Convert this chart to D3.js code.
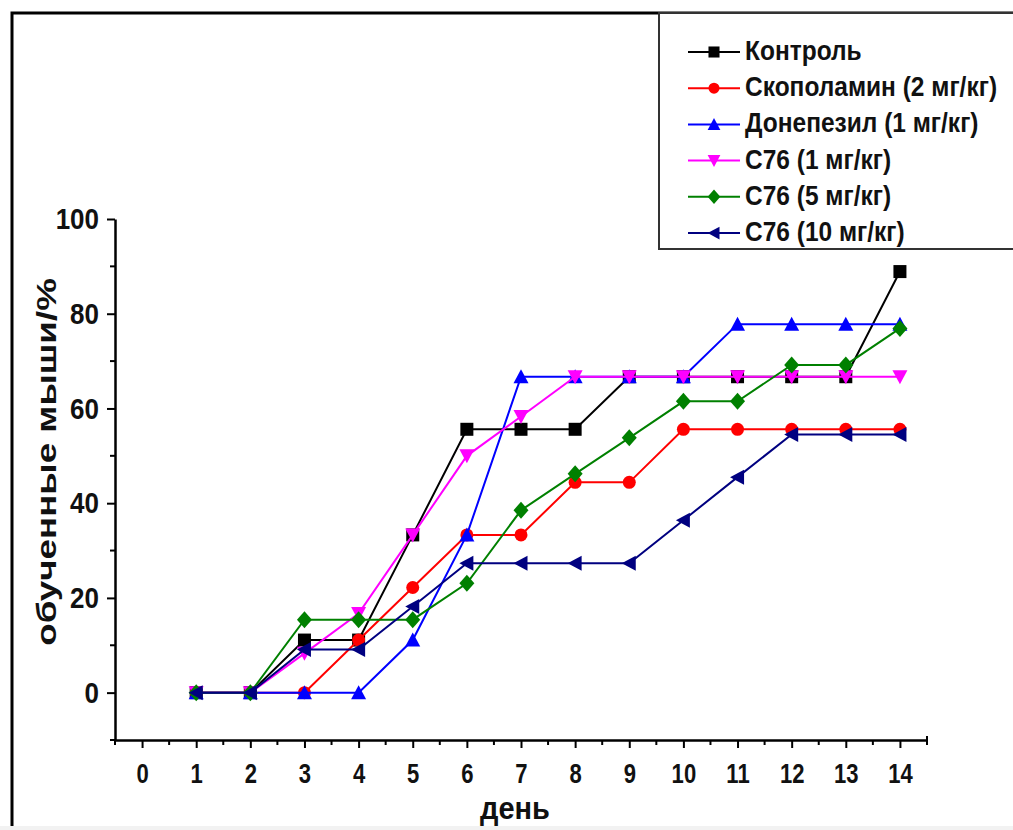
<!DOCTYPE html>
<html>
<head>
  <meta charset="utf-8">
  <title></title>
  <style>
    body { margin: 0; background: #fff; }
    text { font-family: "Liberation Sans", Arial, sans-serif; font-weight: bold; }
  </style>
  <script src="https://d3js.org/d3.v7.min.js"></script>
</head>
<body>
  <svg id="chart" width="1013" height="830"></svg>
  <script>
    // days and series (% of trained mice)
    const days = [1, 2, 3, 4, 5, 6, 7, 8, 9, 10, 11, 12, 13, 14]
    const control   = [0, 0, 11.1, 11.1, 33.3, 55.6, 55.6, 55.6, 66.7, 66.7, 66.7, 66.7, 66.7, 88.9]
    const scopol    = [0, 0, 0, 11.1, 22.2, 33.3, 33.3, 44.4, 44.4, 55.6, 55.6, 55.6, 55.6, 55.6]
    const donepezil = [0, 0, 0, 0, 11.1, 33.3, 66.7, 66.7, 66.7, 66.7, 77.8, 77.8, 77.8, 77.8]
    const c76_1     = [0, 0, 8.3, 16.7, 33.3, 50, 58.3, 66.7, 66.7, 66.7, 66.7, 66.7, 66.7, 66.7]
    const c76_5     = [0, 0, 15.4, 15.4, 15.4, 23.1, 38.5, 46.2, 53.8, 61.5, 61.5, 69.2, 69.2, 76.9]
    const c76_10    = [0, 0, 9.1, 9.1, 18.2, 27.3, 27.3, 27.3, 27.3, 36.4, 45.5, 54.5, 54.5, 54.5]

    const names = ["Контроль", "Скополамин (2 мг/кг)", "Донепезил (1 мг/кг)", "C76 (1 мг/кг)", "C76 (5 мг/кг)", "C76 (10 мг/кг)"]
    const colors = ["#000000", "#ff0000", "#0000ff", "#ff00ff", "#008000", "#000080"]
    const shapes = ["square", "circle", "up", "down", "diamond", "left"]
    const values = [control, scopol, donepezil, c76_1, c76_5, c76_10]

    const xTicks = d3.range(0, 15)
    const yTicks = [0, 20, 40, 60, 80, 100]

    const svg = d3.select("#chart")

    // outer frame
    svg.append("rect").attr("x", 12).attr("y", 13).attr("width", 1010).attr("height", 830)
      .attr("fill", "none").attr("stroke", "#000").attr("stroke-width", 3)
    svg.append("rect").attr("x", 0).attr("y", 826).attr("width", 1013).attr("height", 4).attr("fill", "#f2f2f2")

    const x = d3.scaleLinear().domain([-0.5, 14.5]).range([115, 927])
    const y = d3.scaleLinear().domain([-10, 100]).range([740, 219])

    // axes
    const xAxis = svg.append("g").attr("transform", "translate(0,740)")
      .call(d3.axisBottom(x).tickValues(xTicks).tickSize(8).tickSizeOuter(0))
    xAxis.append("g").selectAll("line").data(d3.range(-0.5, 14.6, 1)).join("line")
      .attr("x1", d => x(d)).attr("x2", d => x(d)).attr("y1", 0).attr("y2", 5)
      .attr("stroke", "#000").attr("stroke-width", 2)
    xAxis.append("line").attr("x1", x(14.5)).attr("x2", x(14.5)).attr("y1", 0).attr("y2", -4)
      .attr("stroke", "#000").attr("stroke-width", 2)

    const yAxis = svg.append("g").attr("transform", "translate(115,0)")
      .call(d3.axisLeft(y).tickValues(yTicks).tickSize(8).tickPadding(8).tickSizeOuter(0))
    yAxis.append("g").selectAll("line").data([-10, 10, 30, 50, 70, 90]).join("line")
      .attr("x1", 0).attr("x2", -5).attr("y1", d => y(d)).attr("y2", d => y(d))
      .attr("stroke", "#000").attr("stroke-width", 2)

    svg.selectAll(".domain").attr("stroke", "#000").attr("stroke-width", 2.5)
    svg.selectAll(".tick line").attr("stroke", "#000").attr("stroke-width", 2)
    svg.selectAll(".tick text").attr("fill", "#111")

    // stretched tick labels like the original
    xAxis.selectAll(".tick text").attr("font-size", 24)
      .attr("dy", null).attr("y", 43 / 1.17).attr("transform", "scale(0.92,1.17)")
    yAxis.selectAll(".tick text").attr("font-size", 26).attr("transform", "scale(1,1.15)")

    // axis titles
    svg.append("text").attr("transform", "translate(515,819) scale(1,1.1)").attr("text-anchor", "middle")
      .attr("font-size", 29).attr("fill", "#111").text("день")
    svg.append("text").attr("transform", "translate(56,462) rotate(-90) scale(1.36,1)").attr("text-anchor", "middle")
      .attr("font-size", 27).attr("fill", "#111").text("обученные мыши/%")

    function marker(g, shape, color) {
      const s = 6.5
      if (shape == "square") g.append("rect").attr("x", -s).attr("y", -s).attr("width", 2 * s).attr("height", 2 * s)
      else if (shape == "circle") g.append("circle").attr("r", s)
      else if (shape == "up") g.append("path").attr("d", `M0,${-s - 1}L${s + 1},${s}L${-s - 1},${s}Z`)
      else if (shape == "down") g.append("path").attr("d", `M0,${s + 1}L${s + 1},${-s}L${-s - 1},${-s}Z`)
      else if (shape == "diamond") g.append("path").attr("d", `M0,${-s - 2}L${s + 1},0L0,${s + 2}L${-s - 1},0Z`)
      else if (shape == "left") g.append("path").attr("d", `M${-s - 1},0L${s},${-s - 1}L${s},${s + 1}Z`)
      g.selectAll("*").attr("fill", color)
    }

    const line = d3.line().x((d, i) => x(days[i])).y(d => y(d))

    values.forEach((vals, k) => {
      svg.append("path").datum(vals).attr("d", line)
        .attr("fill", "none").attr("stroke", colors[k]).attr("stroke-width", 2)
      vals.forEach((v, i) => {
        const g = svg.append("g").attr("transform", `translate(${x(days[i])},${y(v)})`)
        marker(g, shapes[k], colors[k])
      })
    })

    // legend
    svg.append("rect").attr("x", 659).attr("y", 13).attr("width", 400).attr("height", 236)
      .attr("fill", "#fff").attr("stroke", "#333").attr("stroke-width", 2)
    names.forEach((n, k) => {
      const ly = 52 + k * 36.2
      svg.append("line").attr("x1", 688).attr("x2", 740).attr("y1", ly).attr("y2", ly)
        .attr("stroke", colors[k]).attr("stroke-width", 2)
      marker(svg.append("g").attr("transform", `translate(714,${ly}) scale(0.85)`), shapes[k], colors[k])
      svg.append("text").attr("transform", `translate(745,${ly + 8}) scale(1,1.1)`)
        .attr("font-size", 24.5).attr("fill", "#111").text(n)
    })
  </script>
</body>
</html>
